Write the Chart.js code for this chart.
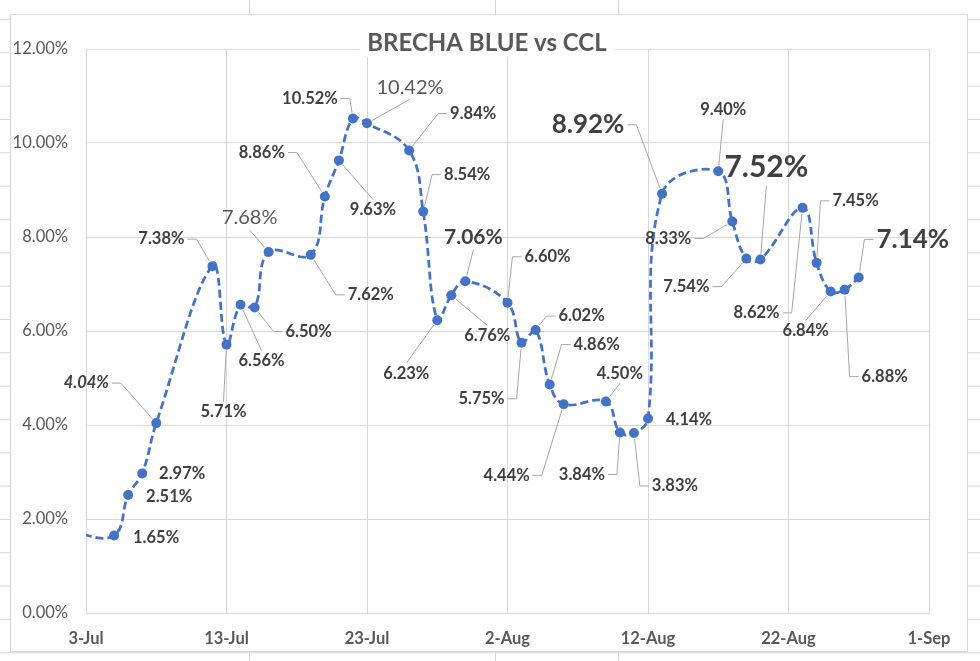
<!DOCTYPE html>
<html>
<head>
<meta charset="utf-8">
<title>Brecha Blue vs CCL</title>
<script src="https://cdn.jsdelivr.net/npm/chart.js@4/dist/chart.umd.min.js"></script>
<style>
  html, body { margin: 0; padding: 0; }
  body {
    width: 980px; height: 661px; overflow: hidden; position: relative;
    background-color: #fff;
    background-image:
      linear-gradient(to right, #d6d6d6 1px, transparent 1px),
      linear-gradient(to bottom, #d6d6d6 1px, transparent 1px);
    background-size: 123px 33.33px;
    background-position: 3px 19px;
  }
  #frame {
    position: absolute; left: 10px; top: 14px;
    width: 958px; height: 638px; box-sizing: border-box;
    border: 1px solid #d9d9d9; background: #fff;
  }
  canvas { display: block; }
</style>
</head>
<body>
<div id="frame"><canvas id="chart" width="956" height="636"></canvas></div>
<script>
// datos: fechas (2021) y brecha blue vs CCL en %
const fechas = [
  '2021-07-02', '2021-07-05', '2021-07-06', '2021-07-07', '2021-07-08',
  '2021-07-12', '2021-07-13', '2021-07-14', '2021-07-15', '2021-07-16',
  '2021-07-19', '2021-07-20', '2021-07-21', '2021-07-22', '2021-07-23',
  '2021-07-26', '2021-07-27', '2021-07-28', '2021-07-29', '2021-07-30',
  '2021-08-02', '2021-08-03', '2021-08-04', '2021-08-05', '2021-08-06',
  '2021-08-09', '2021-08-10', '2021-08-11', '2021-08-12', '2021-08-13',
  '2021-08-17', '2021-08-18', '2021-08-19', '2021-08-20',
  '2021-08-23', '2021-08-24', '2021-08-25', '2021-08-26', '2021-08-27'
];
const brecha = [
  1.71, 1.65, 2.51, 2.97, 4.04,
  7.38, 5.71, 6.56, 6.50, 7.68,
  7.62, 8.86, 9.63, 10.52, 10.42,
  9.84, 8.54, 6.23, 6.76, 7.06,
  6.60, 5.75, 6.02, 4.86, 4.44,
  4.50, 3.84, 3.83, 4.14, 8.92,
  9.40, 8.33, 7.54, 7.52,
  8.62, 7.45, 6.84, 6.88, 7.14
];
const tickLabels = ['3-Jul', '13-Jul', '23-Jul', '2-Aug', '12-Aug', '22-Aug', '1-Sep'];
const inicio = '2021-07-03';

// ubicación de las etiquetas (offset en px respecto al punto), tipo de guía y estilo
// a: 'n' sin guía, 's' guía lateral, 'v' guía vertical
const labelLayout = [
  null,
  { dx: 42, dy: 2, a: 'n' }, { dx: 41, dy: 2, a: 'n' }, { dx: 40, dy: 0, a: 'n' },
  { dx: -70, dy: -40, a: 's', s: 'bi' },
  { dx: -51, dy: -27, a: 's' }, { dx: -3, dy: 67, a: 'v' }, { dx: 21, dy: 56, a: 'v' },
  { dx: 54, dy: 24, a: 's' }, { dx: -19, dy: -34, a: 'v', s: 'r20' },
  { dx: 60, dy: 40, a: 's' }, { dx: -63, dy: -44, a: 's' }, { dx: 34, dy: 49, a: 'v' },
  { dx: -43, dy: -20, a: 's' }, { dx: 43, dy: -36, a: 'v', s: 'r20' },
  { dx: 64, dy: -37, a: 's' }, { dx: 44, dy: -37, a: 's' }, { dx: -31, dy: 53, a: 'v' },
  { dx: 36, dy: 40, a: 'v' }, { dx: 8, dy: -44, a: 'v', s: 'b20' },
  { dx: 40, dy: -46, a: 's' }, { dx: -40, dy: 56, a: 's' }, { dx: 46, dy: -14, a: 's' },
  { dx: 47, dy: -40, a: 's' }, { dx: -57, dy: 71, a: 's' },
  { dx: 14, dy: -28, a: 'v' }, { dx: -38, dy: 42, a: 's' }, { dx: 41, dy: 53, a: 's' },
  { dx: 41, dy: 1, a: 'n' }, { dx: -74, dy: -69, a: 's', s: 'b26' },
  { dx: 5, dy: -62, a: 'v' }, { dx: -64, dy: 17, a: 's' }, { dx: -60, dy: 28, a: 's' },
  { dx: 6, dy: -92, a: 'v', s: 'b29' },
  { dx: -46, dy: 105, a: 's' }, { dx: 39, dy: -62, a: 's' }, { dx: -25, dy: 39, a: 'v' },
  { dx: 40, dy: 87, a: 's' }, { dx: 54, dy: -38, a: 's', s: 'b26' }
];

const FAMILIA = 'Lato, "Open Sans", "Liberation Sans", sans-serif';
const labelStyles = {
  b:   { font: 'bold 16.5px ' + FAMILIA, size: 16.5, color: '#404040' },
  bi:  { font: 'italic bold 16.5px ' + FAMILIA, size: 16.5, color: '#404040' },
  r20: { font: '20px ' + FAMILIA, size: 20, color: '#595959' },
  b20: { font: 'bold 21px ' + FAMILIA, size: 21, color: '#404040' },
  b26: { font: 'bold 26px ' + FAMILIA, size: 26, color: '#404040' },
  b29: { font: 'bold 30px ' + FAMILIA, size: 30, color: '#404040' }
};

function diasDesde(fecha) {
  const [y, m, d] = fecha.split('-').map(Number);
  const [y0, m0, d0] = inicio.split('-').map(Number);
  return (Date.UTC(y, m - 1, d) - Date.UTC(y0, m0 - 1, d0)) / 86400000;
}

const puntos = fechas.map((f, i) => ({ x: diasDesde(f), y: brecha[i] }));

const titlePlugin = {
  id: 'tituloExcel',
  beforeDatasetsDraw(chart) {
    const ctx = chart.ctx;
    const texto = 'BRECHA BLUE vs CCL';
    ctx.save();
    ctx.font = 'bold 24px ' + FAMILIA;
    const w = ctx.measureText(texto).width;
    const cx = 476, cy = 28;
    ctx.fillStyle = '#fff';
    ctx.fillRect(cx - w / 2 - 8, cy - 16, w + 16, 30);
    ctx.fillStyle = '#595959';
    ctx.textAlign = 'center';
    ctx.textBaseline = 'middle';
    ctx.fillText(texto, cx, cy);
    ctx.restore();
  }
};

const labelPlugin = {
  id: 'etiquetasExcel',
  afterDatasetsDraw(chart) {
    const ctx = chart.ctx;
    const pts = chart.getDatasetMeta(0).data;
    ctx.save();
    brecha.forEach((v, i) => {
      const lay = labelLayout[i];
      if (!lay) return;
      const p = pts[i];
      const st = labelStyles[lay.s || 'b'];
      const texto = v.toFixed(2) + '%';
      ctx.font = st.font;
      const w = ctx.measureText(texto).width;
      const cx = p.x + lay.dx, cy = p.y + lay.dy;

      if (lay.a !== 'n') {
        let path = [];
        if (lay.a === 's') {
          const lado = lay.dx < 0 ? 1 : -1;
          const ax = cx + lado * (w / 2 + 3);
          path.push([ax, cy], [ax + lado * 9, cy]);
        } else {
          const ay = lay.dy < 0 ? cy + st.size * 0.6 : cy - st.size * 0.6;
          path.push([cx, ay]);
        }
        const last = path[path.length - 1];
        const ddx = p.x - last[0], ddy = p.y - last[1];
        const dist = Math.hypot(ddx, ddy);
        const k = dist > 6 ? (dist - 6) / dist : 0;
        path.push([last[0] + ddx * k, last[1] + ddy * k]);
        ctx.strokeStyle = '#a6a6a6';
        ctx.lineWidth = 1;
        ctx.beginPath();
        path.forEach((q, j) => j ? ctx.lineTo(q[0], q[1]) : ctx.moveTo(q[0], q[1]));
        ctx.stroke();
      }

      ctx.fillStyle = st.color;
      ctx.textAlign = 'center';
      ctx.textBaseline = 'middle';
      ctx.fillText(texto, cx, cy);
    });
    ctx.restore();
  }
};

new Chart(document.getElementById('chart'), {
  type: 'line',
  data: {
    datasets: [{
      label: 'Brecha',
      data: puntos,
      borderColor: '#4472C4',
      backgroundColor: '#4472C4',
      borderWidth: 2.75,
      borderDash: [8, 4],
      tension: 0.4,
      pointRadius: 5,
      pointHoverRadius: 5,
      pointBorderWidth: 0,
      pointBackgroundColor: '#4472C4',
      fill: false
    }]
  },
  options: {
    responsive: false,
    animation: false,
    layout: { padding: { left: 0, right: 38, top: 34, bottom: 0 } },
    plugins: {
      legend: { display: false },
      title: { display: false },
      tooltip: { enabled: false }
    },
    scales: {
      x: {
        type: 'linear',
        min: 0,
        max: 60,
        afterFit: s => { s.height = 38; },
        ticks: {
          stepSize: 10,
          padding: 16,
          maxRotation: 0,
          color: '#595959',
          font: { family: FAMILIA, size: 16.5, weight: 'bold' },
          callback: v => tickLabels[Math.round(v / 10)]
        },
        grid: { color: '#d9d9d9', drawTicks: false },
        border: { color: '#d9d9d9' }
      },
      y: {
        min: 0,
        max: 12,
        afterFit: s => { s.width = 75; },
        ticks: {
          stepSize: 2,
          padding: 18,
          color: '#595959',
          font: { family: FAMILIA, size: 16.5 },
          callback: v => v.toFixed(2) + '%'
        },
        grid: { color: '#d9d9d9', drawTicks: false },
        border: { color: '#d9d9d9' }
      }
    }
  },
  plugins: [titlePlugin, labelPlugin]
});
</script>
</body>
</html>
